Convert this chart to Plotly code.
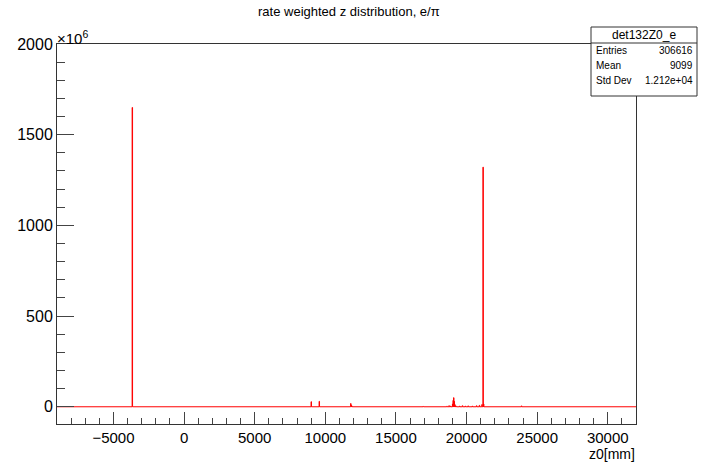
import plotly.graph_objects as go

# ---- data (z0 in mm, rate in units of 1e6) ----
x_range = [-9000, 32000]
bin_width = 30
bin_lo = [-3680, 8990, 9560, 11790, 11830, 11870, 16920, 18600, 18750, 18850,
          19000, 19040, 19080, 19120, 19160, 19200, 19250, 19500, 19700, 19900,
          20100, 20400, 20700, 20900, 21080, 21160, 21200, 23880]
counts_1e6 = [1650, 28, 30, 18, 8, 4, 2, 3, 6, 4,
              15, 35, 50, 30, 12, 5, 3, 4, 6, 4,
              5, 4, 6, 8, 12, 1321, 15, 5]
x_ticks = [-5000, 0, 5000, 10000, 15000, 20000, 25000, 30000]
y_ticks = [0, 500, 1000, 1500, 2000]
stats_name = "det132Z0_e"
stats_rows = [("Entries", "306616"), ("Mean", "9099"), ("Std Dev", "1.212e+04")]

# ---- build histogram outline (step) ----
xs = [x_range[0]]
ys = [0]
for lo, c in zip(bin_lo, counts_1e6):
    xs += [lo, lo + bin_width]
    ys += [c, 0]
xs.append(x_range[1])
ys.append(0)

W, H = 702, 462
L, R, T, B = 57, 66, 44, 38
pw, ph = W - L - R, H - T - B

def px(p):
    return (p - L) / pw

def py(p):
    return (H - B - p) / ph

FONT = "Liberation Sans, Arial, Helvetica, sans-serif"

fig = go.Figure()
fig.add_trace(go.Scatter(x=xs, y=ys, mode="lines", line_shape="hv",
                         line=dict(color="#ff0000", width=1), hoverinfo="skip",
                         showlegend=False))

fig.update_layout(
    width=W, height=H,
    margin=dict(l=L, r=R, t=T, b=B, pad=0),
    paper_bgcolor="white", plot_bgcolor="white",
    font=dict(family=FONT, color="black", size=15),
    showlegend=False,
    xaxis=dict(range=x_range, tickvals=x_ticks, ticktext=[f"{v:d}".replace("-", "\u2212") for v in x_ticks],
               ticks="inside", ticklen=12, tickwidth=1, tickcolor="#444",
               minor=dict(dtick=1000, tick0=0, ticks="inside", ticklen=6, tickcolor="#444", tickwidth=1, showgrid=False),
               showgrid=False, zeroline=False, showline=True, mirror=True,
               linecolor="#333", linewidth=1, tickfont=dict(size=15, family=FONT)),
    yaxis=dict(range=[-95, 2000], tickvals=y_ticks, ticktext=[str(v) for v in y_ticks],
               ticks="inside", ticklen=17, tickwidth=1, tickcolor="#444",
               minor=dict(dtick=100, tick0=0, ticks="inside", ticklen=8, tickcolor="#444", tickwidth=1, showgrid=False),
               showgrid=False, zeroline=False, showline=True, mirror=True,
               linecolor="#333", linewidth=1, tickfont=dict(size=16, family=FONT)),
)

annotations = [
    dict(text="rate weighted z distribution, e/\u03c0", x=px(349), y=py(12), xref="paper", yref="paper",
         xanchor="center", yanchor="middle", showarrow=False, font=dict(size=13)),
    dict(text="\u00d710<sup>6</sup>", x=px(55), y=py(37), xref="paper", yref="paper",
         xanchor="left", yanchor="middle", showarrow=False, font=dict(size=15)),
    dict(text="z0[mm]", x=px(637), y=py(453.5), xref="paper", yref="paper",
         xanchor="right", yanchor="middle", showarrow=False, font=dict(size=14)),
    dict(text=stats_name, x=px(644), y=py(35), xref="paper", yref="paper",
         xanchor="center", yanchor="middle", showarrow=False, font=dict(size=12)),
]
row_y = [51, 65.5, 80.5]
for (k, v), yy in zip(stats_rows, row_y):
    annotations.append(dict(text=k, x=px(594), y=py(yy), xref="paper", yref="paper",
                            xanchor="left", yanchor="middle", showarrow=False, font=dict(size=10)))
    annotations.append(dict(text=v, x=px(695), y=py(yy), xref="paper", yref="paper",
                            xanchor="right", yanchor="middle", showarrow=False, font=dict(size=10)))
fig.update_layout(annotations=annotations)

fig.update_layout(shapes=[
    dict(type="rect", xref="paper", yref="paper", x0=px(591), x1=px(697), y0=py(96), y1=py(27),
         line=dict(color="#333", width=1), fillcolor="white", layer="above"),
    dict(type="line", xref="paper", yref="paper", x0=px(591), x1=px(697), y0=py(43), y1=py(43),
         line=dict(color="#333", width=1), layer="above"),
])

fig.write_html("out.html", config={"displayModeBar": False},
               post_script="document.body.style.margin='0px';document.body.style.padding='0px';")
